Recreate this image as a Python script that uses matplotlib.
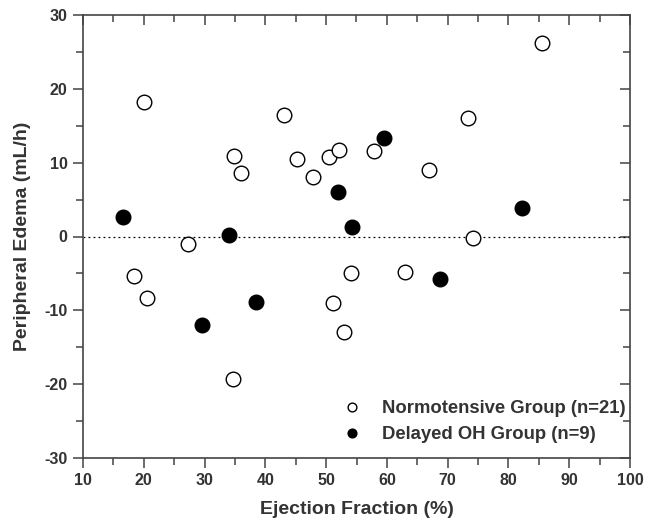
import matplotlib.pyplot as plt

# Normotensive group (open circles)
normo_ef = [20.0, 43.1, 34.8, 36.0, 45.2, 47.8, 50.4, 27.2, 18.4, 20.5, 34.7,
            52.1, 57.8, 73.3, 85.5, 66.9, 74.2, 54.1, 63.0, 51.2, 52.9]
normo_edema = [18.2, 16.5, 10.9, 8.6, 10.5, 8.0, 10.7, -1.0, -5.3, -8.3, -19.3,
               11.7, 11.6, 16.1, 26.2, 9.0, -0.2, -5.0, -4.8, -9.0, -12.9]

# Delayed OH group (filled circles)
oh_ef = [16.5, 34.0, 29.6, 38.5, 59.6, 52.0, 54.3, 82.2, 68.8]
oh_edema = [2.6, 0.2, -12.0, -8.9, 13.4, 6.0, 1.3, 3.9, -5.8]

x_ticks = [10, 20, 30, 40, 50, 60, 70, 80, 90, 100]
y_ticks = [-30, -20, -10, 0, 10, 20, 30]

plt.rcParams['font.family'] = ['Liberation Sans', 'DejaVu Sans']
plt.rcParams['font.weight'] = 'bold'
plt.rcParams['axes.unicode_minus'] = False
text_color = '#333333'
line_color = '#444444'

fig = plt.figure(figsize=(6.57, 5.29), dpi=100)
ax = fig.add_axes([83 / 657, 1 - 458 / 529, (630 - 83) / 657, (458 - 15) / 529])

ax.axhline(0, color='black', linestyle=(0, (1.5, 2.5)), linewidth=0.9, zorder=1)

ax.plot(normo_ef, normo_edema, 'o', markersize=10.5, markerfacecolor='white',
        markeredgecolor='black', markeredgewidth=1.0, linestyle='none',
        label='Normotensive Group (n=21)', zorder=3)
ax.plot(oh_ef, oh_edema, 'o', markersize=10.5, markerfacecolor='black',
        markeredgecolor='black', markeredgewidth=1.0, linestyle='none',
        label='Delayed OH Group (n=9)', zorder=3)

ax.set_xlim(10, 100)
ax.set_ylim(-30, 30)
ax.set_xticks(x_ticks)
ax.set_yticks(y_ticks)
ax.set_xticks(range(15, 100, 10), minor=True)
ax.set_yticks(range(-25, 30, 10), minor=True)

for side in ['left', 'right', 'top', 'bottom']:
    ax.spines[side].set_color(line_color)
    ax.spines[side].set_linewidth(1.2)

ax.tick_params(which='both', direction='out', colors=line_color, width=1.1,
               labelcolor=text_color, labelsize=11.5, pad=4)
ax.tick_params(which='major', length=7)
ax.tick_params(which='minor', length=5)

# mirrored inward ticks on top and right
axt = ax.secondary_xaxis('top')
axt.set_xticks(x_ticks)
axt.set_xticks(range(15, 100, 10), minor=True)
axt.tick_params(which='both', direction='in', colors=line_color, width=1.1,
                labeltop=False)
axt.tick_params(which='major', length=7)
axt.tick_params(which='minor', length=5)
axt.spines['top'].set_visible(False)
axr = ax.secondary_yaxis('right')
axr.set_yticks(y_ticks)
axr.set_yticks(range(-25, 30, 10), minor=True)
axr.tick_params(which='both', direction='in', colors=line_color, width=1.1,
                labelright=False)
axr.tick_params(which='major', length=7)
axr.tick_params(which='minor', length=5)
axr.spines['right'].set_visible(False)

for lab in ax.get_xticklabels() + ax.get_yticklabels():
    lab.set_fontweight('bold')

ax.set_xlabel('Ejection Fraction (%)', fontsize=14, fontweight='bold',
              color=text_color, labelpad=9)
ax.set_ylabel('Peripheral Edema (mL/h)', fontsize=14, fontweight='bold',
              color=text_color, labelpad=10)

leg = ax.legend(loc='lower right', bbox_to_anchor=(1.015, 0.004), frameon=False,
                markerscale=0.6, handlelength=1.0, handletextpad=1.1,
                labelspacing=0.5, borderpad=0.2,
                prop={'weight': 'bold', 'size': 13.3})
for t in leg.get_texts():
    t.set_color(text_color)

fig.savefig('out.png', dpi=100)
